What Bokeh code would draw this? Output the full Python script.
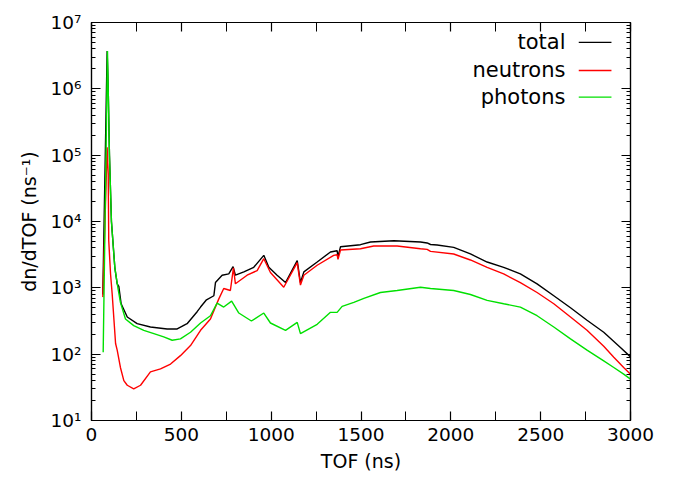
from bokeh.plotting import figure
from bokeh.models import (Range1d, FixedTicker, LinearAxis, LogAxis, Label,
                          CustomJSTickFormatter, ColumnDataSource,
                          CustomLabelingPolicy)
from bokeh.embed import file_html
from bokeh.resources import INLINE

# ---- data ----
tof_total = [63, 87, 93, 100, 111, 130, 143, 152, 165, 199, 254, 328, 421, 477, 532,
             588, 607, 640, 681, 690, 727, 764, 788, 801, 848, 903, 959, 987, 1033,
             1080, 1145, 1163, 1182, 1256, 1330, 1367, 1372, 1386, 1497, 1553, 1683,
             1831, 1868, 1887, 1924, 2016, 2109, 2202, 2294, 2387, 2480, 2573, 2666,
             2758, 2851, 2944, 3000]
total = [790, 3.72e6, 1.0e6, 1.0e5, 1.0e4, 2000, 1150, 1050, 575, 363, 288, 257, 240,
         240, 288, 437, 513, 660, 760, 1200, 1550, 1620, 2090, 1550, 1740, 2040, 3090,
         2040, 1550, 1200, 2570, 1200, 1740, 2450, 3470, 3630, 2950, 4170, 4470,
         4900, 5130, 4900, 4750, 4500, 4430, 4070, 3240, 2450, 2040, 1620, 1150, 759,
         501, 324, 214, 126, 91]

tof_neutrons = [63, 87, 93, 96, 106, 115, 134, 143, 161, 180, 199, 235, 273, 328, 384,
                440, 495, 551, 607, 662, 708, 736, 773, 790, 801, 866, 922, 959, 996,
                1070, 1145, 1163, 1182, 1256, 1348, 1367, 1372, 1386, 1497, 1571,
                1701, 1831, 1868, 1887, 2016, 2109, 2202, 2294, 2387, 2480, 2573,
                2666, 2758, 2851, 2907, 2962, 3000]
neutrons = [724, 1.32e5, 5.25e4, 5130, 1620, 813, 145, 115, 63, 40, 34, 30, 34, 54,
            60, 71, 95, 135, 229, 339, 676, 977, 912, 2000, 1150, 1550, 1820, 2750,
            1700, 1020, 2400, 1100, 1550, 2190, 3090, 3160, 2690, 3720, 3890, 4270,
            4270, 3890, 3800, 3550, 3240, 2630, 2040, 1620, 1200, 851, 575, 363,
            229, 132, 90, 63, 50]

tof_photons = [65, 89, 93, 100, 111, 130, 147, 161, 189, 235, 291, 347, 402, 449, 495,
               551, 607, 662, 699, 736, 780, 820, 890, 959, 996, 1080, 1145, 1163,
               1256, 1330, 1367, 1395, 1460, 1516, 1608, 1701, 1831, 1887, 2016, 2109,
               2202, 2294, 2387, 2480, 2573, 2666, 2758, 2851, 2907, 2962, 3000]
photons = [107, 3.72e6, 1.0e6, 1.0e5, 1.0e4, 2000, 1000, 603, 339, 269, 229, 204, 182,
           162, 170, 214, 295, 380, 589, 513, 631, 417, 316, 417, 295, 229, 302, 204,
           282, 427, 427, 525, 603, 692, 851, 912, 1020, 977, 912, 794, 646, 575, 513,
           380, 257, 170, 115, 79, 63, 50, 42]

series_names = ["total", "neutrons", "photons"]
series_colors = ["#000000", "#ff0000", "#00e000"]

x_ticks = [0, 500, 1000, 1500, 2000, 2500, 3000]
x_minor = [250, 750, 1250, 1750, 2250, 2750]
y_ticks = [1e1, 1e2, 1e3, 1e4, 1e5, 1e6, 1e7]
y_minor = [k * 10 ** d for d in range(1, 7) for k in range(2, 10)]

FONT = "DejaVu Sans"

p = figure(width=686, height=480, output_backend="svg", toolbar_location=None,
           y_axis_type="log", x_range=Range1d(0, 3000), y_range=Range1d(10, 1e7),
           min_border_left=91, min_border_right=56, min_border_top=22,
           min_border_bottom=60)
p.xgrid.visible = False
p.ygrid.visible = False
p.outline_line_color = "black"
p.outline_line_width = 1.2
p.background_fill_color = "white"
p.border_fill_color = "white"

sup_js = """
const sup = {'0':'\u2070','1':'\u00b9','2':'\u00b2','3':'\u00b3','4':'\u2074',
             '5':'\u2075','6':'\u2076','7':'\u2077','8':'\u2078','9':'\u2079','-':'\u207b'};
const e = Math.round(Math.log10(tick));
return '10' + String(e).split('').map(c => sup[c]).join('');
"""

no_labels_js = """
const n = indices.size;
for (let i = 0; i < n; i++) { indices.unset(i); }
return indices;
"""

def style_axis(ax, ticks, minor):
    ax.ticker = FixedTicker(ticks=ticks, minor_ticks=minor)
    ax.axis_line_color = "black"
    ax.axis_line_width = 1.2
    ax.major_tick_in = 9
    ax.major_tick_out = 0
    ax.major_tick_line_width = 1.2
    ax.minor_tick_line_width = 1.0
    ax.major_label_text_font = FONT
    ax.axis_label_text_font = FONT
    ax.axis_label_text_font_style = "normal"
    ax.major_label_text_color = "black"
    ax.axis_label_text_color = "black"
    ax.major_label_text_font_size = "18.5px"

# bottom x axis
xa = p.xaxis[0]
style_axis(xa, x_ticks, x_minor)
xa.minor_tick_in = 9
xa.minor_tick_out = 0
xa.major_label_standoff = 7
xa.axis_label = "TOF (ns)"
xa.axis_label_text_font_size = "19px"
xa.axis_label_standoff = 6

# left y axis
ya = p.yaxis[0]
style_axis(ya, y_ticks, y_minor)
ya.minor_tick_in = 4
ya.minor_tick_out = 0
ya.formatter = CustomJSTickFormatter(code=sup_js)
ya.major_label_standoff = 10
ya.axis_label = "dn/dTOF (ns\u207b\u00b9)"
ya.axis_label_text_font_size = "19px"
ya.axis_label_standoff = 8

# mirrored axes (ticks only, labels filtered out)
top = LinearAxis()
style_axis(top, x_ticks, x_minor)
top.minor_tick_in = 9
top.minor_tick_out = 0
top.major_label_policy = CustomLabelingPolicy(code=no_labels_js)
p.add_layout(top, "above")

right = LogAxis()
style_axis(right, y_ticks, y_minor)
right.minor_tick_in = 4
right.minor_tick_out = 0
right.major_label_policy = CustomLabelingPolicy(code=no_labels_js)
p.add_layout(right, "right")

# data lines
xs_list = [tof_total, tof_neutrons, tof_photons]
ys_list = [total, neutrons, photons]
for xs, ys, name, col in zip(xs_list, ys_list, series_names, series_colors):
    src = ColumnDataSource(dict(x=xs, y=ys))
    p.line("x", "y", source=src, line_color=col, line_width=1.4)

# gnuplot-style key: text right-aligned, sample line to the right
key_text_x = 2638
key_line_x0 = 2712
key_line_x1 = 2894
key_y = [5.0e6, 1.89e6, 7.5e5]
for name, col, ky in zip(series_names, series_colors, key_y):
    p.add_layout(Label(x=key_text_x, y=ky, text=name, text_align="right",
                       text_baseline="middle", text_font=FONT,
                       text_font_size="21px", text_color="black"))
key_src = ColumnDataSource(dict(x0=[key_line_x0] * 3, x1=[key_line_x1] * 3,
                                y=key_y, color=series_colors))
p.segment(x0="x0", y0="y", x1="x1", y1="y", color="color", line_width=1.3,
          source=key_src)

open("out.html", "w", encoding="utf-8").write(file_html(p, INLINE))
